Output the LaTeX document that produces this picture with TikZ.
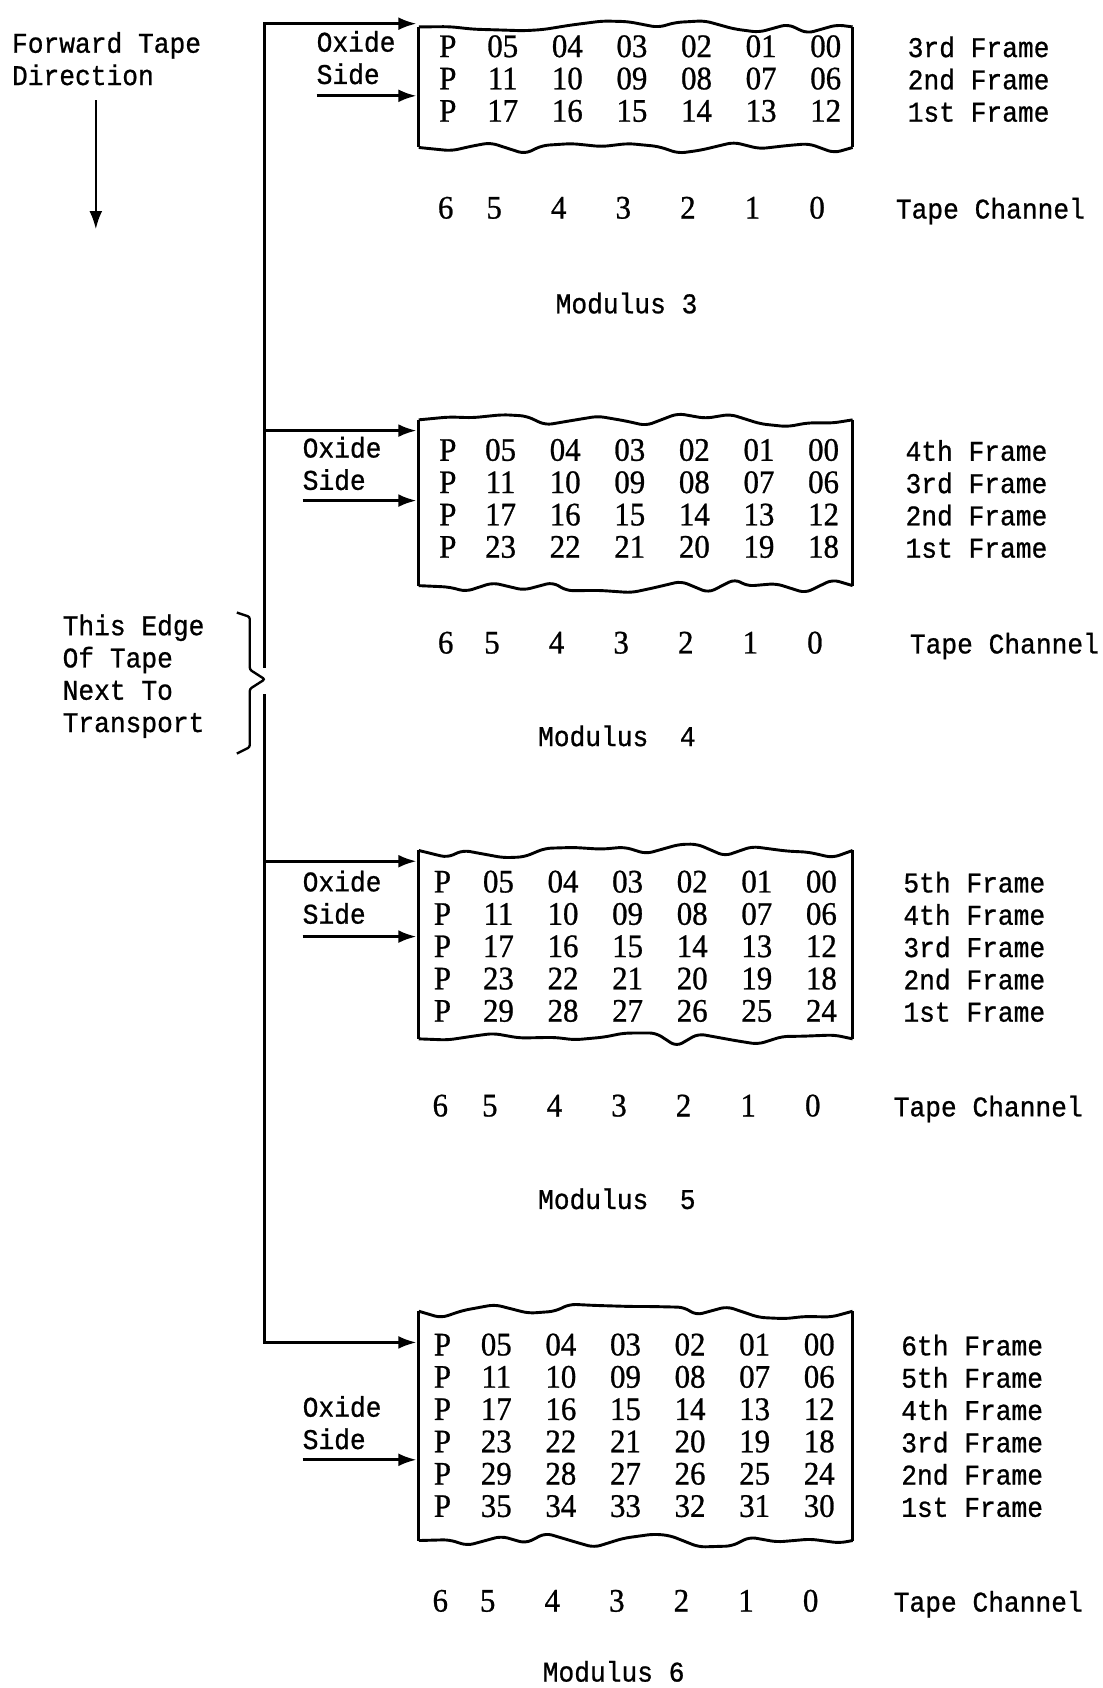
\documentclass[tikz,border=0pt]{standalone}
\usepackage{fontspec}
\usepackage{tikz}
\usetikzlibrary{arrows.meta,decorations.pathmorphing,calc}
\newfontfamily\tapetype[FakeBold=0.8,FakeStretch=0.92]{Liberation Mono}
\newfontfamily\tapedigit[FakeBold=0.8,FakeStretch=0.94]{Liberation Serif}
\newcommand{\twfont}{\tapetype\fontsize{26.5}{30}\selectfont}
\newcommand{\dgfont}{\tapedigit\fontsize{30.5}{30}\selectfont}
\newcommand{\ordinal}[1]{\ifcase#1\or1st\or2nd\or3rd\or4th\or5th\or6th\fi}

\begin{document}
\begin{tikzpicture}[x=1pt,y=-1pt,
  wire/.style={line width=2.7pt},
  arr/.style={wire,-{Latex[length=17pt,width=12pt]}},
  torn/.style={wire,decorate,decoration={random steps,segment length=24pt,amplitude=7pt},rounded corners=6pt},
  txt/.style={font=\twfont,inner sep=0pt,anchor=base west},
  dig/.style={font=\dgfont,inner sep=0pt,anchor=base}]
  \useasboundingbox (0,0) rectangle (1024,1568);
  \pgfmathsetseed{11}

  % tape direction
  \node[txt] (fwd1) at (11,49) {Forward Tape};
  \node[txt] (fwd2) at (11,79) {Direction};
  \coordinate (fwd-a) at (89,93);
  \coordinate (fwd-b) at (89,213);
  \draw[arr,line width=2.2pt] (fwd-a) -- (fwd-b);

  % edge of tape
  \foreach \t [count=\i] in {This Edge,Of Tape,Next To,Transport}
    \node[txt] (edge\i) at (58,{560+30*\i}) {\t};
  \draw[wire,line width=2.2pt,rounded corners=2pt] (220,569) -- (232,573) -- (232,622) -- (246,631)
    -- (232,640) -- (232,694) -- (220,700);

  \coordinate (spine) at (246,0);
  \coordinate (spine-top) at (246,22);
  \coordinate (gap-a) at (246,619);
  \coordinate (gap-b) at (246,646);
  \coordinate (spine-bot) at (246,1247);
  \draw[wire,line cap=rect] (spine-top) -- (gap-a);
  \draw[wire,line cap=rect] (gap-b) -- (spine-bot);

  \foreach \m/\yA/\yT/\yB/\yR/\yO/\yS/\yC/\yM/\xP/\d/\xC/\xM/\xO/\mt in {
    3/22/25/137/53/48/89/203/291/416/0/832/582/294/Modulus 3,
    4/400/390/544/428/425/465/607/693/416/-2/845/573/281/Modulus~~4,
    5/800/790/965/829/828/870/1037/1123/411/-4/830/573/281/Modulus~~5,
    6/1247/1218/1431/1259/1316/1356/1497/1562/411/-6/830/570/281/Modulus 6}{
    \coordinate (in\m) at (387,\yA);
    \coordinate (side\m) at (387,\yS);
    % torn tape
    \draw[torn] (389,\yT) -- (792,\yT);
    \draw[torn] (389,\yB) -- (792,\yB);
    \draw[wire] (389,\yT) -- (389,\yB);
    \draw[wire] (792,\yT) -- (792,\yB);
    % oxide side
    \node[txt] (oxide\m) at (\xO,\yO) {Oxide};
    \node[txt] (sidetxt\m) at (\xO,{\yO+30}) {Side};
    \draw[arr] (spine |- in\m) -- (in\m);
    \draw[arr] (sidetxt\m.west |- side\m) -- (side\m);
    % frames
    \foreach \r in {1,...,\m}{
      \pgfmathtruncatemacro\fr{\m+1-\r}
      \node[dig] (p\m-\r) at (\xP,{\yR+30*\r-30}) {P};
      \foreach \c in {0,...,5}{
        \pgfmathtruncatemacro\v{6*(\r-1)+\c}
        \node[dig] (c\m-\r-\c) at ({767+\d-60*\c},{\yR+30*\r-30}) {\ifnum\v<10 0\fi\v};
      }
      \node[txt] (frame\m-\r) at ({843+\d},{\yR+30*\r-30}) {\ordinal{\fr} Frame};
    }
    % channels
    \node[dig] (ch\m-6) at ({\xP-2},\yC) {6};
    \foreach \c in {0,...,5}
      \node[dig] (ch\m-\c) at ({759+\d-60*\c},\yC) {\c};
    \node[txt] (chan\m) at (\xC,\yC) {Tape Channel};
    \node[txt,anchor=base] (mod\m) at (\xM,\yM) {\mt};
  }
\end{tikzpicture}
\end{document}
